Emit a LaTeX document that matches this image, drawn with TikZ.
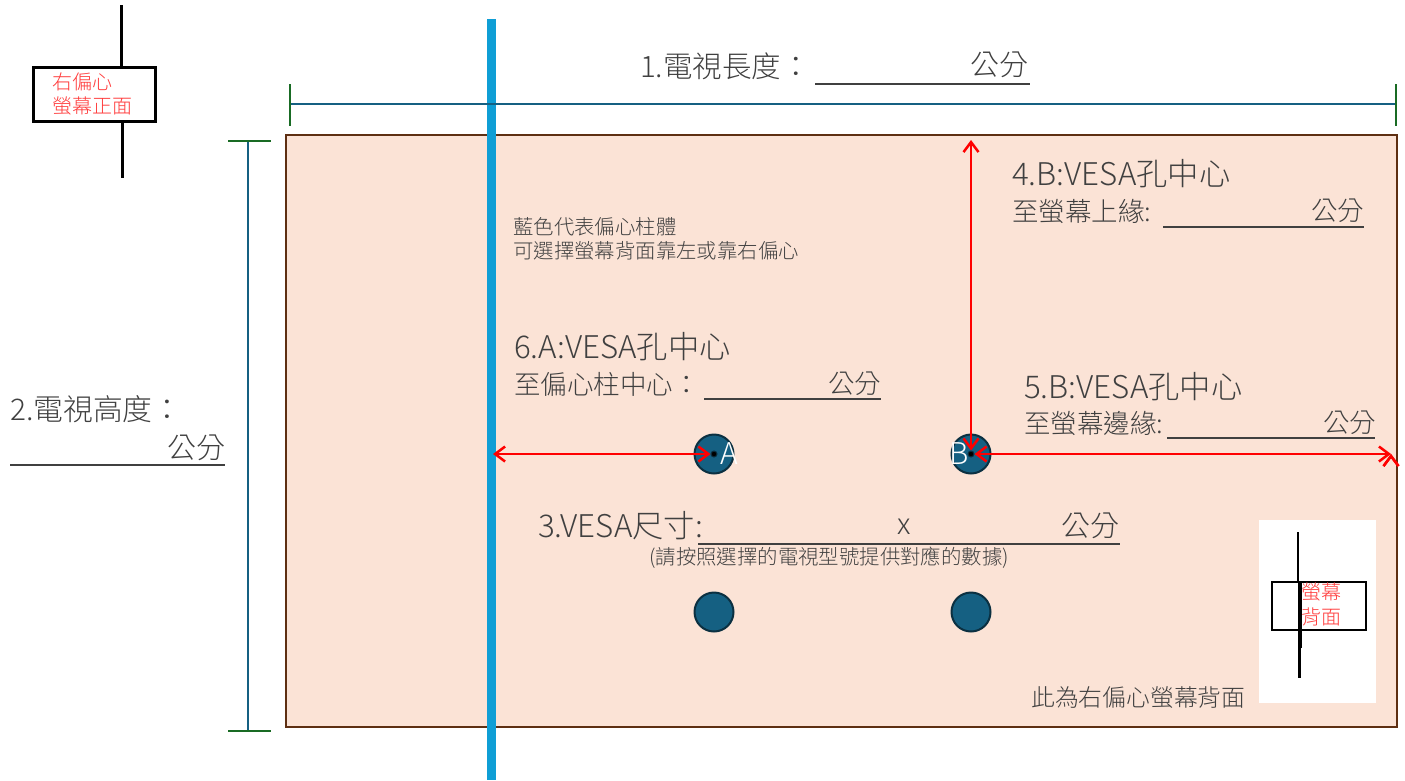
\documentclass[tikz,border=0pt]{standalone}
\usepackage{fontspec}
\usetikzlibrary{arrows.meta}
\setmainfont{Noto Sans CJK TC Light}
\definecolor{panelfill}{HTML}{FBE3D6}
\definecolor{paneldraw}{HTML}{5E2F12}
\definecolor{barblue}{HTML}{0F9ED5}
\definecolor{dimblue}{HTML}{156082}
\definecolor{dimgreen}{HTML}{196B24}
\definecolor{holedraw}{HTML}{0B3041}
\definecolor{inktext}{HTML}{404040}
\definecolor{notered}{HTML}{FF3B3B}
\begin{document}
\begin{tikzpicture}[x=1pt, y=-1pt, node distance=257pt,
                    txt/.style={anchor=west,inner sep=0pt,text=inktext},
                    big/.style={txt,font=\fontsize{29}{29}\selectfont},
                    wide/.style={txt,font=\fontsize{31.3}{31.3}\selectfont},
                    mid/.style={txt,font=\fontsize{26.5}{26.5}\selectfont},
                    small/.style={txt,font=\fontsize{20.4}{20.4}\selectfont},
                    redtxt/.style={anchor=west,inner sep=0pt,text=notered,font=\fontsize{20}{20}\selectfont},
                    hole/.style={circle,draw=holedraw,fill=dimblue,line width=2pt,minimum size=39pt,inner sep=0pt},
                    pin/.style={circle,draw=holedraw,fill=black,line width=1pt,minimum size=6pt,inner sep=0pt},
                    rule/.style={draw=inktext,line width=1.5pt},
                    dim/.style={draw=dimblue,line width=2.5pt},
                    tick/.style={draw=dimgreen,line width=2.5pt},
                    measure/.style={draw=red,line width=2.5pt,
                      <->,>={Straight Barb[length=10pt,width=15pt,line width=2.5pt]}},
                    frame/.style={draw=black,line width=3pt}]
  \useasboundingbox (0,0) rectangle (1405,780);

  % panel and white inset
  \node[draw=paneldraw,fill=panelfill,line width=2.5pt,minimum width=1111pt,minimum height=592pt,inner sep=0pt] (panel) at (841.5,431) {};
  \node[fill=white,minimum width=117pt,minimum height=183pt,inner sep=0pt] (inset) at (1317.5,611.5) {};

  % offset column
  \coordinate (bartop) at (491.5,19);
  \coordinate (barbot) at (491.5,780);
  \draw[barblue,line width=9.5pt] (bartop) -- (barbot);

  % holes
  \node[hole] (holeA) at (714,454) {};
  \node[hole] (holeB) [right of=holeA] {};
  \node[hole,node distance=158pt] (holeC) [below of=holeA] {};
  \node[hole,node distance=158pt] (holeD) [below of=holeB] {};
  \node[pin] (pinA) at (holeA) {};
  \node[pin] (pinB) at (holeB) {};
  \node[anchor=center,inner sep=0pt,text=white,font=\fontsize{30}{30}\selectfont] (labelA) at (729,454) {A};
  \node[anchor=center,inner sep=0pt,text=white,font=\fontsize{30}{30}\selectfont] (labelB) at (959,454) {B};

  % length and height dimensions
  \coordinate (lenL) at (290,104);
  \coordinate (lenR) at (1396,104);
  \coordinate (lenLa) at (290,84);
  \coordinate (lenLb) at (290,126);
  \coordinate (lenRa) at (1396,84);
  \coordinate (lenRb) at (1396,126);
  \coordinate (heiT) at (248,141);
  \coordinate (heiB) at (248,731);
  \coordinate (heiTa) at (228,141);
  \coordinate (heiTb) at (271,141);
  \coordinate (heiBa) at (228,731);
  \coordinate (heiBb) at (271,731);
  \path[dim] (lenL) edge (lenR) (heiT) edge (heiB);
  \path[tick]
    (lenLa) edge (lenLb)
    (lenRa) edge (lenRb)
    (heiTa) edge (heiTb)
    (heiBa) edge (heiBb);

  % red measures
  \coordinate (barA) at (493,454);
  \coordinate (topB) at (971,140);
  \coordinate (edgeB) at (1391,454);
  \path[measure]
    (barA) edge (pinA.west)
    (topB) edge (pinB.north)
    (edgeB) edge (pinB.east);

  % front view box
  \node[draw=black,fill=white,line width=3pt,minimum width=122pt,minimum height=54pt,inner sep=0pt] (front) at (94,94) {};
  \coordinate (frontT) at (121,5);
  \coordinate (frontTb) at (121,67);
  \coordinate (frontBa) at (122,121);
  \coordinate (frontB) at (122,178);
  \path[frame] (frontT) edge (frontTb) (frontBa) edge (frontB);
  \node[redtxt] (frontA) at (52,82) {右偏心};
  \node[redtxt] (frontC) at (52,106) {螢幕正面};

  % back view box
  \node[draw=black,line width=2.5pt,minimum width=94pt,minimum height=48pt,inner sep=0pt] (back) at (1319,606) {};
  \coordinate (backT) at (1297.8,532);
  \coordinate (backTb) at (1297.8,582);
  \coordinate (backUp) at (1299.7,582);
  \coordinate (backM) at (1299.7,648);
  \coordinate (backB) at (1299.7,678);
  \draw[black,line width=2.5pt] (backT) -- (backTb);
  \draw[black,line width=4pt] (backUp) -- (backM);
  \draw[black,line width=2.5pt] (backM) -- (backB);
  \node[redtxt] (backA) at (1301,592) {螢幕};
  \node[redtxt] (backC) at (1301,617) {背面};

  % texts and their rules
  \node[big,font=\fontsize{29.5}{29.5}\selectfont] (title1) at (640,66) {1.電視長度：};
  \node[big] (cm1) at (970,65) {公分};
  \coordinate (r1a) at (815,84);
  \coordinate (r1b) at (1030,84);
  \node[big,font=\fontsize{29.8}{29.8}\selectfont] (title2) at (10,409) {2.電視高度：};
  \node[big] (cm2) at (167,448) {公分};
  \coordinate (r2a) at (10,465);
  \coordinate (r2b) at (225,465);
  \node[wide] (title3) at (538,526) {3.VESA尺寸:};
  \node[big] (times3) at (897,527) {x};
  \node[big] (cm3) at (1061,526) {公分};
  \coordinate (r3a) at (698,544);
  \coordinate (r3b) at (1120,544);
  \node[small,anchor=center] (hint3) at (829,558) {(請按照選擇的電視型號提供對應的數據)};
  \node[wide] (title4) at (1012,174) {4.B:VESA孔中心};
  \node[mid] (sub4) at (1012,211) {至螢幕上緣:};
  \node[mid] (cm4) at (1311,211) {公分};
  \coordinate (r4a) at (1163,227);
  \coordinate (r4b) at (1364,227);
  \node[wide] (title5) at (1024,387) {5.B:VESA孔中心};
  \node[mid] (sub5) at (1024,423) {至螢幕邊緣:};
  \node[mid] (cm5) at (1323,423) {公分};
  \coordinate (r5a) at (1167,438);
  \coordinate (r5b) at (1375,438);
  \node[wide] (title6) at (514,347) {6.A:VESA孔中心};
  \node[mid] (sub6) at (514,384) {至偏心柱中心：};
  \node[mid] (cm6) at (828,384) {公分};
  \coordinate (r6a) at (704,399);
  \coordinate (r6b) at (881,399);
  \path[rule]
    (r1a) edge (r1b)
    (r2a) edge (r2b)
    (r3a) edge (r3b)
    (r4a) edge (r4b)
    (r5a) edge (r5b)
    (r6a) edge (r6b);

  \node[small] (note1) at (513,227) {藍色代表偏心柱體};
  \node[small] (note2) at (513,251) {可選擇螢幕背面靠左或靠右偏心};
  \node[txt,font=\fontsize{23.8}{23.8}\selectfont] (note3) at (1031,697) {此為右偏心螢幕背面};
\end{tikzpicture}
\end{document}
